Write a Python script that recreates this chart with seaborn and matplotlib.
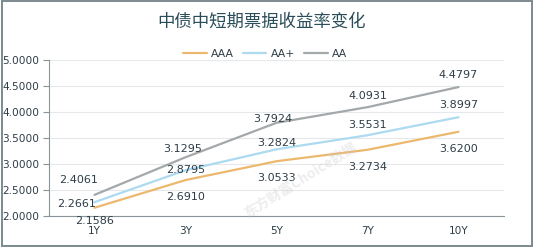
import matplotlib
matplotlib.use("Agg")
import matplotlib.pyplot as plt
import seaborn as sns
import pandas as pd
from matplotlib.patches import Rectangle
from matplotlib.lines import Line2D

categories = ["1Y", "3Y", "5Y", "7Y", "10Y"]
aaa = [2.1586, 2.6910, 3.0533, 3.2734, 3.6200]
aa_plus = [2.2661, 2.8795, 3.2824, 3.5531, 3.8997]
aa = [2.4061, 3.1295, 3.7924, 4.0931, 4.4797]
series_names = ["AAA", "AA+", "AA"]
title = "中债中短期票据收益率变化"
y_ticks = [2.0, 2.5, 3.0, 3.5, 4.0, 4.5, 5.0]

colors = {"AAA": "#ecb86e", "AA+": "#acdaf0", "AA": "#a3a8ab"}
text_color = "#2e3d47"

sns.set_theme(style="white")
plt.rcParams['font.family'] = ['DejaVu Sans', 'Noto Sans CJK SC']

rows = []
for name, vals in zip(series_names, [aaa, aa_plus, aa]):
    for i, (c, v) in enumerate(zip(categories, vals)):
        rows.append({"cat": c, "pos": i, "value": v, "series": name})
df = pd.DataFrame(rows)

W, H = 533, 249
fig = plt.figure(figsize=(W / 100, H / 100), dpi=100)
ax = fig.add_axes([49 / W, 1 - 216 / H, (504 - 49) / W, (216 - 60) / H])

sns.lineplot(data=df, x="pos", y="value", hue="series", hue_order=series_names,
             palette=colors, linewidth=1.6, ax=ax, legend=False, sort=False)

ax.set_xlim(-0.5, 4.5)
ax.set_ylim(2.0, 5.0)
ax.set_yticks(y_ticks)
ax.set_yticklabels([f"{t:.4f}" for t in y_ticks], fontsize=7.6, color=text_color)
ax.set_xticks(range(len(categories)))
ax.set_xticklabels(categories, fontsize=7.6, color=text_color)
ax.set_xticks([i - 0.5 for i in range(len(categories) + 1)], minor=True)
ax.tick_params(axis="x", which="major", length=0, pad=7)
ax.tick_params(axis="x", which="minor", length=4, color="#8a9499", width=0.8)
ax.tick_params(axis="y", which="major", length=4, color="#8a9499", width=0.8, pad=3, left=True)
ax.set_xlabel("")
ax.set_ylabel("")
ax.grid(axis="y", color="#e6e9eb", linewidth=0.8)
ax.set_axisbelow(True)
for s in ["top", "right"]:
    ax.spines[s].set_visible(False)
for s in ["left", "bottom"]:
    ax.spines[s].set_color("#8a9499")
    ax.spines[s].set_linewidth(0.8)

# data labels (pixel offsets)
offsets = {
    "AAA": [(0, -13), (0, -17), (0, -17), (0, -17), (0, -17)],
    "AA+": [(-18, -2), (0, 0), (0, 6), (0, 10), (0, 12)],
    "AA": [(-16, 15), (-3, 8), (-4, 4), (0, 11), (0, 12)],
}
for name, vals in zip(series_names, [aaa, aa_plus, aa]):
    for i, v in enumerate(vals):
        dx, dy = offsets[name][i]
        ax.annotate(f"{v:.4f}", (i, v), xytext=(dx, dy), textcoords="offset pixels",
                    ha="center", va="center", fontsize=8, color=text_color,
                    annotation_clip=False)

# watermark
fig.text(300 / W, 1 - 180 / H, "东方财富Choice数据", fontsize=10, color="#c4c4c4",
         alpha=0.3, rotation=32, ha="center", va="center",
         family=['Noto Sans CJK SC', 'DejaVu Sans'], fontweight="bold")

# title
fig.text(262 / W, 1 - 22 / H, title, fontsize=12.5, color="#2a4d5a",
         ha="center", va="center", family=['Noto Sans CJK SC', 'DejaVu Sans'])

# legend
handles = [Line2D([0], [0], color=colors[n], linewidth=1.6) for n in series_names]
fig.legend(handles, series_names, loc="center", bbox_to_anchor=(265 / W, 1 - 54 / H),
           ncol=3, frameon=False, fontsize=7.8, handlelength=2.2, handletextpad=0.4,
           columnspacing=0.8, labelcolor=text_color)

# border
fig.patches.append(Rectangle((1.5 / W, 3 / H), (W - 3) / W, (H - 4.5) / H,
                             transform=fig.transFigure, fill=False,
                             edgecolor="#7c8a90", linewidth=1.4))

fig.savefig("out.png", dpi=100)
